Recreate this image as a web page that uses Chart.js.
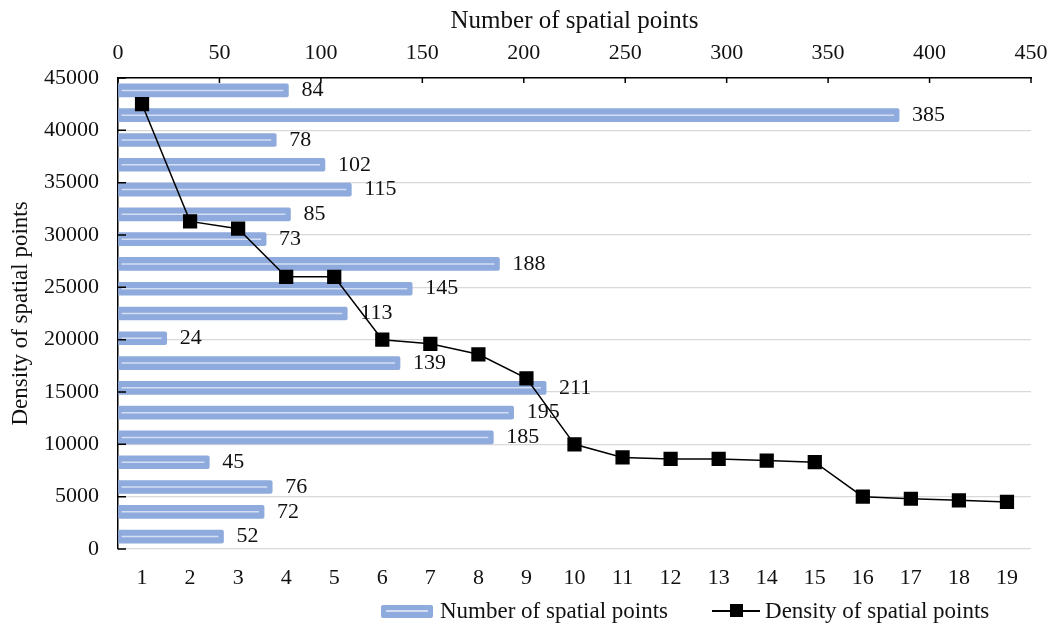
<!DOCTYPE html>
<html>
<head>
<meta charset="utf-8">
<script src="https://cdn.jsdelivr.net/npm/chart.js@4.4.1/dist/chart.umd.min.js"></script>
<style>
  html, body { margin: 0; padding: 0; background: #fff; }
  #wrap { position: relative; width: 1055px; height: 626px; }
  #legend {
    position: absolute; top: 597px; left: 381px;
    font-family: 'Liberation Serif', serif; font-size: 23px; color: #111;
    display: flex; align-items: center; white-space: nowrap; line-height: 28px;
  }
  .sym-bar { width: 52px; height: 13px; background: #8FAADC; margin-right: 7px; position: relative; border-radius: 2px; }
  .sym-bar::after { content: ''; position: absolute; left: 5px; right: 5px; top: 5px; height: 2px; background: #D3DEF2; }
  .sym-line { width: 48px; height: 2px; background: #000; margin: 0 5px 0 44px; position: relative; }
  .sym-line::after { content: ''; position: absolute; left: 18px; top: -6px; width: 13px; height: 13px; background: #000; }
</style>
</head>
<body>
<div id="wrap">
  <canvas id="myChart" width="1055" height="626"></canvas>
  <div id="legend">
    <span class="sym-bar"></span><span>Number of spatial points</span>
    <span class="sym-line"></span><span>Density of spatial points</span>
  </div>
</div>
<script>
//  chart data
const categories = ['1', '2', '3', '4', '5', '6', '7', '8', '9', '10',
                    '11', '12', '13', '14', '15', '16', '17', '18', '19'];
//  bars listed bottom to top (category 1 is the lowest bar)
const point_counts = [52, 72, 76, 45, 185, 195, 211, 139, 24, 113,
                      145, 188, 73, 85, 115, 102, 78, 385, 84];
const point_density = [42500, 31300, 30600, 26000, 26000, 20000, 19600, 18600, 16300, 10000,
                       8750, 8600, 8600, 8450, 8300, 5000, 4800, 4650, 4500];
const count_ticks = { min: 0, max: 450, step: 50 };
const density_ticks = { min: 0, max: 45000, step: 5000 };

const serif = 'Liberation Serif';
const text_color = '#111';

//  draws the light stripe inside each bar and the value next to it
const bar_extras = {
    id: 'bar_extras',
    afterDatasetDraw(chart, args) {
        if (args.meta.type !== 'bar') return;
        const ctx = chart.ctx;
        ctx.save();
        ctx.strokeStyle = '#D3DEF2';
        ctx.lineWidth = 1.5;
        ctx.font = '22px ' + serif;
        ctx.fillStyle = text_color;
        ctx.textBaseline = 'middle';
        args.meta.data.forEach((bar, i) => {
            ctx.beginPath();
            ctx.moveTo(bar.base + 3, bar.y);
            ctx.lineTo(bar.x - 5, bar.y);
            ctx.stroke();
            ctx.fillText(point_counts[i], bar.x + 13, bar.y);
        });
        ctx.restore();
    }
};

//  excel style tick marks pointing into the plot
const inner_ticks = {
    id: 'inner_ticks',
    afterDraw(chart) {
        const ctx = chart.ctx, area = chart.chartArea;
        const y = chart.scales.y, x2 = chart.scales.x2;
        ctx.save();
        ctx.strokeStyle = '#000';
        ctx.lineWidth = 1.5;
        ctx.beginPath();
        y.ticks.forEach((t, i) => {
            const py = y.getPixelForTick(i);
            ctx.moveTo(area.left, py);
            ctx.lineTo(area.left + 8, py);
        });
        x2.ticks.forEach((t, i) => {
            const px = x2.getPixelForTick(i);
            ctx.moveTo(px, area.top);
            ctx.lineTo(px, area.top + 5);
        });
        ctx.stroke();
        ctx.restore();
    }
};

function draw_graph() {
    const ctx = document.getElementById('myChart');
    new Chart(ctx, {
        data: {
            labels: categories,
            datasets: [{
                type: 'line',
                label: 'Density of spatial points',
                data: point_density,
                xAxisID: 'x',
                yAxisID: 'y',
                order: 0,
                borderColor: '#000',
                borderWidth: 1.5,
                pointStyle: 'rect',
                pointRadius: 9,
                pointBackgroundColor: '#000',
                pointBorderColor: '#000',
                tension: 0
            }, {
                type: 'bar',
                label: 'Number of spatial points',
                data: point_counts,
                indexAxis: 'y',
                xAxisID: 'x2',
                yAxisID: 'y2',
                order: 1,
                grouped: false,
                backgroundColor: '#8FAADC',
                borderRadius: 2,
                barThickness: 13
            }]
        },
        plugins: [bar_extras, inner_ticks],
        options: {
            responsive: false,
            animation: false,
            layout: { padding: { left: 0, right: 24, top: 0, bottom: 0 } },
            plugins: {
                legend: { display: false },
                tooltip: { enabled: false }
            },
            scales: {
                x: {
                    type: 'category',
                    position: 'bottom',
                    offset: true,
                    grid: { display: false },
                    border: { display: false },
                    ticks: { color: text_color, font: { family: serif, size: 22 }, padding: 8 },
                    afterFit: (s) => { s.height = 77; s.paddingLeft = 0; s.paddingRight = 0; }
                },
                y: {
                    type: 'linear',
                    position: 'left',
                    min: density_ticks.min,
                    max: density_ticks.max,
                    grid: { color: '#D9D9D9', lineWidth: 1.3, drawTicks: false },
                    border: { color: '#000', width: 1.5 },
                    ticks: { stepSize: density_ticks.step, color: text_color, format: { useGrouping: false },
                             font: { family: serif, size: 22 }, padding: 19 },
                    title: { display: true, text: 'Density of spatial points', color: text_color,
                             font: { family: serif, size: 23 }, padding: { top: 7, bottom: 0 } },
                    afterFit: (s) => { s.width = 118; }
                },
                x2: {
                    type: 'linear',
                    position: 'top',
                    min: count_ticks.min,
                    max: count_ticks.max,
                    grid: { drawOnChartArea: false, drawTicks: false },
                    border: { color: '#000', width: 1.5 },
                    ticks: { stepSize: count_ticks.step, color: text_color, font: { family: serif, size: 22 }, padding: 12 },
                    title: { display: true, text: 'Number of spatial points', color: text_color,
                             font: { family: serif, size: 25 }, padding: { top: 6, bottom: 0 } },
                    afterFit: (s) => { s.height = 78; s.paddingLeft = 0; s.paddingRight = 0; }
                },
                y2: {
                    type: 'category',
                    position: 'right',
                    reverse: true,
                    labels: categories,
                    offset: true,
                    grid: { display: false, drawTicks: false },
                    border: { display: false },
                    ticks: { display: false },
                    afterFit: (s) => { s.width = 0; }
                }
            }
        }
    });
}
draw_graph();
</script>
</body>
</html>
